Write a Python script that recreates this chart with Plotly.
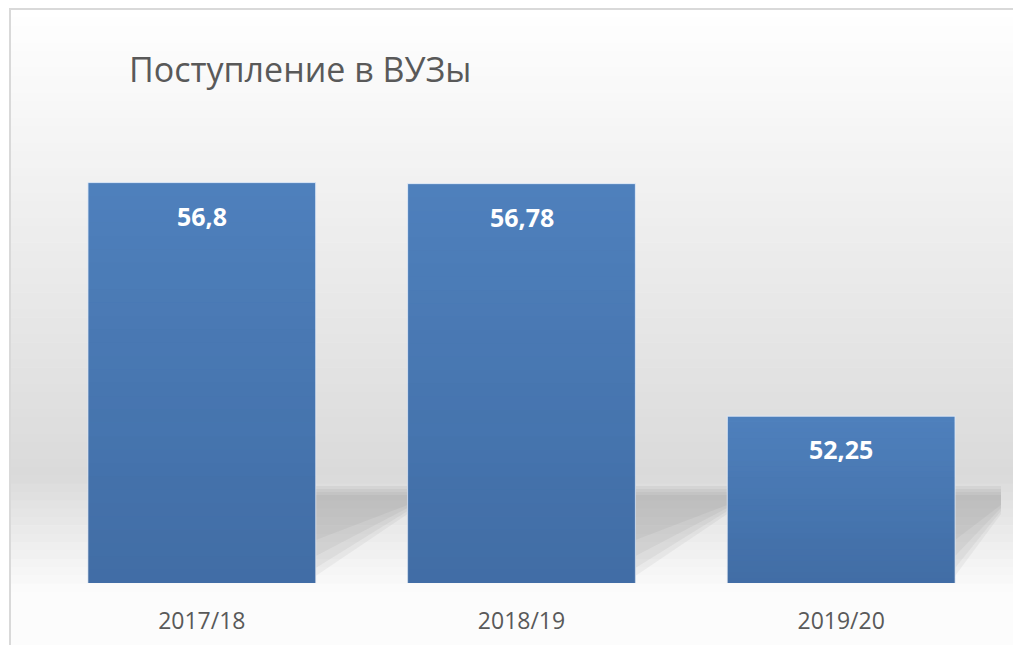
import plotly.graph_objects as go

# ---- data ----
categories = ["2017/18", "2018/19", "2019/20"]
values = [56.8, 56.78, 52.25]
title_text = "Поступление в ВУЗы"

Y_MIN, Y_MAX = 49, 58
OFF = 8  # page body margin in the browser
W, H = 1021 - OFF, 645 - OFF
# plot area in screen pixels: x 42..1001, y 121..583
ML, MT = 42 - OFF, 121 - OFF
MR = W - (1001 - OFF)
MB = H - (583 - OFF)
PW, PH = W - ML - MR, H - MT - MB

def px_to_paper_x(px):  # px = screen pixel
    return (px - OFF - ML) / PW

def px_to_paper_y(py):
    return (583 - py) / PH

def yv(py):
    return Y_MIN + (583 - py) / (PH / (Y_MAX - Y_MIN))

def fmt(v):
    return f"{v:g}".replace(".", ",")

BAR_COLOR = "#4f81bd"
bargap = 0.2875
half = (1 - bargap) / 2
FONT = "Open Sans, Noto Sans, sans-serif"

fig = go.Figure()
fig.add_trace(go.Bar(
    x=categories, y=values,
    marker=dict(color=BAR_COLOR, line=dict(color="rgba(225,235,248,0.9)", width=1)),
    hoverinfo="skip",
))

shapes = []
# background gradient (decorative)
y_top, y_mid, y_bot = 9, 475, 592
steps = 70
for k in range(steps):
    a = y_top + (y_bot - y_top) * k / steps
    b = y_top + (y_bot - y_top) * (k + 1) / steps
    c = (a + b) / 2
    if c <= y_mid:
        g = 255 - (255 - 218) * (c - y_top) / (y_mid - y_top)
    else:
        g = 218 + (252 - 218) * (c - y_mid) / (y_bot - y_mid)
    g = int(round(g))
    shapes.append(dict(type="rect", xref="paper", yref="paper", layer="below",
                       x0=px_to_paper_x(10), x1=px_to_paper_x(1040),
                       y0=px_to_paper_y(b + 0.5), y1=px_to_paper_y(a),
                       fillcolor=f"rgb({g},{g},{g})", line=dict(width=0)))
shapes.append(dict(type="rect", xref="paper", yref="paper", layer="below",
                   x0=px_to_paper_x(10), x1=px_to_paper_x(1040),
                   y0=px_to_paper_y(660), y1=px_to_paper_y(y_bot),
                   fillcolor="rgb(252,252,252)", line=dict(width=0)))

# cast shadows right of each bar (decorative)
for i in range(len(categories)):
    xr = i + half
    xe = min(i + 0.5 + (0.5 - half), len(categories) - 0.5)
    layers = [
        (486, 514, 576, 0.06),
        (489, 511, 568, 0.06),
        (492, 508, 556, 0.06),
        (495, 505, 540, 0.05),
    ]
    for (t, bt, diag, al) in layers:
        path = (f"M {xr},{yv(t)} L {xe},{yv(t)} L {xe},{yv(bt)} "
                f"L {xr},{yv(diag)} Z")
        shapes.append(dict(type="path", xref="x", yref="y", layer="below",
                           path=path, fillcolor=f"rgba(60,60,60,{al})",
                           line=dict(width=0)))

# bar gradient overlay (top lighter, bottom darker)
nb = 30
for i, v in enumerate(values):
    for k in range(nb):
        y0 = Y_MIN + (v - Y_MIN) * k / nb
        y1 = Y_MIN + (v - Y_MIN) * (k + 1) / nb
        al = 0.20 * (1 - (k + 0.5) / nb)
        shapes.append(dict(type="rect", xref="x", yref="y", layer="above",
                           x0=i - half, x1=i + half, y0=y0, y1=y1,
                           fillcolor=f"rgba(10,30,70,{al:.3f})",
                           line=dict(width=0)))

# outer border
shapes.append(dict(type="rect", xref="paper", yref="paper", layer="above",
                   x0=px_to_paper_x(10), x1=px_to_paper_x(1060),
                   y0=px_to_paper_y(700), y1=px_to_paper_y(9),
                   fillcolor="rgba(0,0,0,0)", line=dict(color="#d9d9d9", width=2)))

annotations = [
    dict(x=c, y=v, xref="x", yref="y", text=f"<b>{fmt(v)}</b>", showarrow=False,
         yanchor="middle", yshift=-33,
         font=dict(family=FONT, size=25, color="#ffffff"))
    for c, v in zip(categories, values)
]
annotations.append(dict(
    x=px_to_paper_x(127), y=px_to_paper_y(69), xref="paper", yref="paper",
    xanchor="left", yanchor="middle", text=title_text, showarrow=False,
    font=dict(family=FONT, size=34, color="#595959")))

fig.update_layout(
    width=W, height=H,
    margin=dict(l=ML, r=MR, t=MT, b=MB, autoexpand=False),
    paper_bgcolor="#ffffff", plot_bgcolor="rgba(0,0,0,0)",
    bargap=bargap, showlegend=False,
    shapes=shapes, annotations=annotations,
    xaxis=dict(type="category", showgrid=False, zeroline=False, showline=False,
               automargin=False,
               ticks="outside", ticklen=17, tickcolor="rgba(0,0,0,0)",
               tickfont=dict(family=FONT, size=23, color="#595959")),
    yaxis=dict(range=[Y_MIN, Y_MAX], visible=False, showgrid=False, automargin=False),
)

fig.write_html("out.html")
